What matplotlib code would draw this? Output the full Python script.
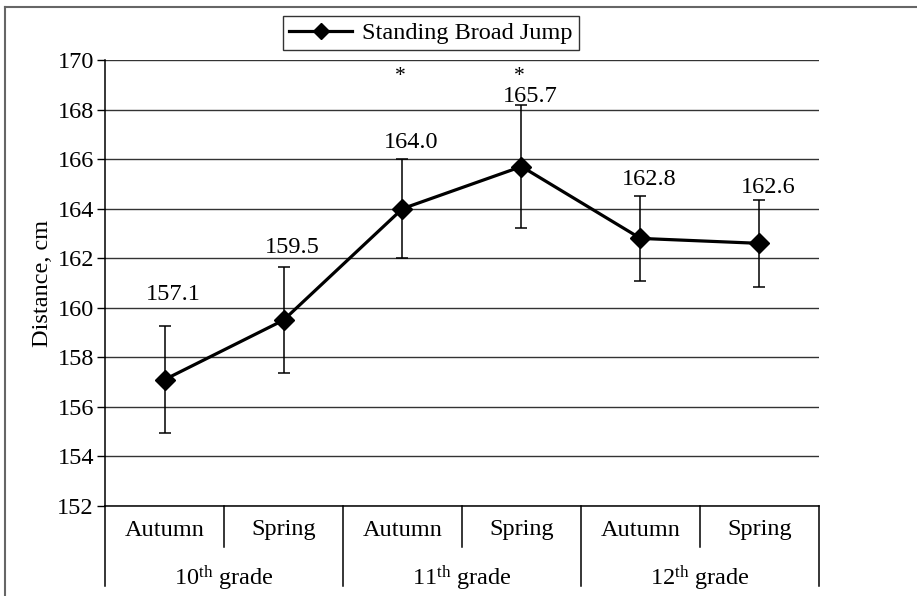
import matplotlib
matplotlib.use("Agg")
import matplotlib.pyplot as plt
from matplotlib.lines import Line2D
import numpy as np

plt.rcParams['font.family'] = ['Liberation Serif', 'DejaVu Serif']
plt.rcParams['mathtext.fontset'] = 'custom'
plt.rcParams['mathtext.rm'] = 'Liberation Serif'
plt.rcParams['mathtext.it'] = 'Liberation Serif:italic'

# ---- data ----
seasons = ["Autumn", "Spring", "Autumn", "Spring", "Autumn", "Spring"]
grades = ["10$^{\\mathrm{th}}$ grade", "11$^{\\mathrm{th}}$ grade", "12$^{\\mathrm{th}}$ grade"]
values = [157.1, 159.5, 164.0, 165.7, 162.8, 162.6]
errors = [2.15, 2.15, 2.0, 2.5, 1.7, 1.75]
value_labels = ["157.1", "159.5", "164.0", "165.7", "162.8", "162.6"]
significant = [False, False, True, True, False, False]
y_ticks = [152, 154, 156, 158, 160, 162, 164, 166, 168, 170]
series_name = "Standing Broad Jump"
y_label = "Distance, cm"

FS = 17.5
W, H = 917, 596
fig = plt.figure(figsize=(W / 100, H / 100), dpi=100)
ax = fig.add_axes([105 / W, (H - 506) / H, (819 - 105) / W, (506 - 60) / H])

x = np.arange(len(values))
ax.errorbar(x, values, yerr=errors, fmt='none', ecolor='black', elinewidth=1.1,
            capsize=4.5, capthick=1.1, zorder=3)
ax.plot(x, values, color='black', lw=2.3, marker='D', markersize=10.5,
        markerfacecolor='black', markeredgecolor='black', zorder=4, label=series_name)

# value labels (offset in points above the upper error cap)
label_offsets = [23, 14, 12, 6, 12, 9]
for xi, v, e, lab, off in zip(x, values, errors, value_labels, label_offsets):
    ax.annotate(lab, (xi, v + e), xytext=(6, off), textcoords='offset points',
                ha='center', va='center', fontsize=FS, zorder=5)

for xi, s in zip(x, significant):
    if s:
        ax.text(xi - 0.02, 0.962, "*", transform=ax.get_xaxis_transform(),
                ha='center', va='center', fontsize=FS - 2)

ax.set_xlim(-0.5, len(values) - 0.5)
ax.set_ylim(152, 170)
ax.set_yticks(y_ticks)
ax.set_yticklabels([str(t) for t in y_ticks], fontsize=FS)
ax.yaxis.grid(True, color='#333333', lw=1.0)
ax.set_axisbelow(True)
ax.tick_params(axis='y', direction='out', length=6, width=1, pad=2)
ax.tick_params(axis='x', bottom=False, labelbottom=False)
for sp in ['top', 'right']:
    ax.spines[sp].set_visible(False)
ax.spines['left'].set_linewidth(1.1)
ax.spines['bottom'].set_linewidth(1.1)
ax.set_ylabel(y_label, fontsize=FS, labelpad=3)

# category axis
tr = ax.get_xaxis_transform()
ah = 506 - 60
season_y = -(530 - 506) / ah
grade_y = -(578 - 506) / ah
sep_short = -(547 - 506) / ah
sep_long = -(586 - 506) / ah
for i, s in enumerate(seasons):
    ax.text(i, season_y, s, transform=tr, ha='center', va='center', fontsize=FS)
for g, name in enumerate(grades):
    ax.text(2 * g + 0.5, grade_y, name, transform=tr, ha='center', va='center', fontsize=FS)
for b in range(len(values) + 1):
    bx = b - 0.5
    ybot = sep_long if b % 2 == 0 else sep_short
    ax.add_line(Line2D([bx, bx], [0, ybot], transform=tr, color='black', lw=1.1, clip_on=False))

# legend
leg = fig.legend(loc='center', bbox_to_anchor=(431 / W, 1 - 33 / H), fontsize=FS,
                 frameon=True, fancybox=False, edgecolor='black', handlelength=2.6,
                 borderpad=0.25, handletextpad=0.4, borderaxespad=0)
leg.get_frame().set_linewidth(1.0)
for h in leg.legend_handles:
    h.set_markersize(8)

# outer frame
fig.add_artist(Line2D([5 / W, 1], [1 - 7 / H, 1 - 7 / H], transform=fig.transFigure,
                      color='#666666', lw=1.5))
fig.add_artist(Line2D([5 / W, 5 / W], [0, 1 - 7 / H], transform=fig.transFigure,
                      color='#666666', lw=1.5))

fig.savefig("out.png", dpi=100)
